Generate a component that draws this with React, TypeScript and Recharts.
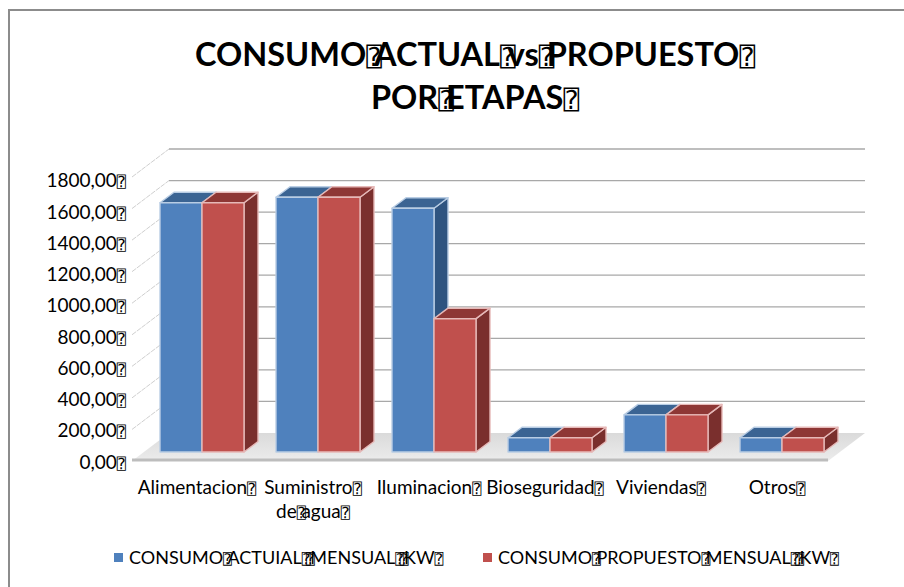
import { BarChart, Bar, XAxis, YAxis, CartesianGrid, Legend } from 'recharts';

const BOX = '\u2370';

const categories = [
  `Alimentacion${BOX}`,
  `Suministro${BOX}\nde${BOX}agua${BOX}`,
  `Iluminacion${BOX}`,
  `Bioseguridad${BOX}`,
  `Viviendas${BOX}`,
  `Otros${BOX}`,
];
const actual = [1580, 1615, 1545, 90, 235, 90];
const propuesto = [1580, 1615, 845, 90, 235, 90];
const yTicks = [0, 200, 400, 600, 800, 1000, 1200, 1400, 1600, 1800];

const titleLines = [`CONSUMO${BOX}ACTUAL${BOX}vs${BOX}PROPUESTO${BOX}`, `POR${BOX}ETAPAS${BOX}`];
const actualName = `CONSUMO${BOX}ACTUIAL${BOX}${BOX}MENSUAL${BOX}${BOX}KW${BOX}`;
const propuestoName = `CONSUMO${BOX}PROPUESTO${BOX}MENSUAL${BOX}${BOX}KW${BOX}`;

const data = categories.map((name, i) => ({ name, actual: actual[i], propuesto: propuesto[i] }));

const FONT = 'Lato, sans-serif';
const BLUE = { front: '#4f81bd', top: '#3b6493', side: '#2f5480', edge: '#b9cde4' };
const RED = { front: '#c0504d', top: '#8e3735', side: '#7a2f2d', edge: '#e6b9b8' };

// the plot area is the plane the bars stand on; floor and walls are offset from it
const FRONT = { dx: -12, dy: 9 };
const BACK = { dx: 25, dy: -19 };
const DEPTH = { dx: 14, dy: -10.5 };

// the source text has a missing-glyph box after each word, narrower than its glyph
function boxed(label: string, size: number) {
  const parts = label.split(BOX);
  const out: any[] = [];
  parts.forEach((part, i) => {
    const after = i > 0;
    if (part) {
      out.push(
        <tspan key={`t${i}`} dx={after ? -size * 0.24 : undefined}>
          {part}
        </tspan>
      );
    }
    if (i < parts.length - 1) {
      out.push(
        <tspan
          key={`b${i}`}
          dx={after && !part ? -size * 0.24 : undefined}
          fontFamily="DejaVu Sans Mono"
          fontWeight="normal"
          fontSize={size * 0.8}
        >
          {BOX}
        </tspan>
      );
    }
  });
  return out;
}

function Bar3D({ x, y, width, height, colors }: any) {
  const { dx, dy } = DEPTH;
  const r = x + width;
  const b = y + height;
  return (
    <g stroke={colors.edge} strokeWidth={1.4} strokeLinejoin="round">
      <path d={`M${r},${y} L${r + dx},${y + dy} L${r + dx},${b + dy} L${r},${b} Z`} fill={colors.side} />
      <path d={`M${x},${y} L${x + dx},${y + dy} L${r + dx},${y + dy} L${r},${y} Z`} fill={colors.top} />
      <rect x={x} y={y} width={width} height={height} fill={colors.front} />
    </g>
  );
}

function WallLine({ x1, x2, y1 }: any) {
  const isFloor = Math.abs(y1 - 452) < 1;
  const fx = x1 + FRONT.dx;
  const fy = y1 + FRONT.dy;
  const bx = x1 + BACK.dx;
  const by = y1 + BACK.dy;
  const brx = x2 + BACK.dx;
  if (isFloor) {
    const frx = x2 + FRONT.dx;
    return (
      <g>
        <path d={`M${fx},${fy} L${bx},${by} L${brx},${by} L${frx},${fy} Z`} fill="url(#floorFill)" />
        <path d={`M${fx},${fy - 1} L${frx},${fy - 1}`} stroke="#bdbdbd" strokeWidth={3} fill="none" />
      </g>
    );
  }
  return (
    <g fill="none">
      <path d={`M${fx},${fy} L${bx},${by}`} stroke="#cfcfcf" strokeWidth={1} strokeDasharray="5 1" />
      <path d={`M${bx},${by} L${brx},${by}`} stroke="#a8a8a8" strokeWidth={1.3} />
    </g>
  );
}

function YTick({ x, y, payload }: any) {
  // labels in the source are spaced a touch tighter than the gridlines
  const shift = 16.5 + (452 - y) * 0.01;
  return (
    <text x={x - 10} y={y + shift} textAnchor="end" fontFamily={FONT} fontSize={19} fill="#000">
      {boxed(`${payload.value},00${BOX}`, 19)}
    </text>
  );
}

function XTick({ x, y, payload }: any) {
  const lines = String(payload.value).split('\n');
  return (
    <g>
      {lines.map((line: string, i: number) => (
        <text key={i} x={x - 5} y={y + 34 + i * 24} textAnchor="middle" fontFamily={FONT} fontSize={19} fill="#000">
          {boxed(line, 19)}
        </text>
      ))}
    </g>
  );
}

function LegendRow() {
  return (
    <svg width={904} height={30} style={{ display: 'block', overflow: 'visible' }}>
      <rect x={114} y={4} width={9} height={9} fill={BLUE.front} />
      <text x={129} y={15} fontFamily={FONT} fontSize={18} fill="#000">
        {boxed(actualName, 18)}
      </text>
      <rect x={483} y={4} width={9} height={9} fill={RED.front} />
      <text x={498} y={15} fontFamily={FONT} fontSize={18} fill="#000">
        {boxed(propuestoName, 18)}
      </text>
    </svg>
  );
}

export default function App() {
  return (
    <div style={{ position: 'absolute', left: 0, top: 0, width: 904, height: 587, overflow: 'hidden', background: '#fff' }}>
      <div style={{ position: 'absolute', left: 8, top: 9, width: 896, height: 578, borderLeft: '2px solid #8c8c8c', borderTop: '2px solid #8c8c8c' }} />
      <svg width={904} height={130} style={{ position: 'absolute', left: 0, top: 0 }}>
        {titleLines.map((line, i) => (
          <text key={i} x={475} y={66 + i * 43} textAnchor="middle" fontFamily={FONT} fontWeight="bold" fontSize={32.5} fill="#000">
            {boxed(line, 32.5)}
          </text>
        ))}
        <defs>
          <linearGradient id="floorFill" x1="0" y1="0" x2="0" y2="1">
            <stop offset="0" stopColor="#dadada" />
            <stop offset="1" stopColor="#ececec" />
          </linearGradient>
        </defs>
      </svg>
      <div style={{ position: 'absolute', left: 0, top: 0 }}>
        <BarChart
          width={904}
          height={587}
          data={data}
          barCategoryGap="13.8%"
          barGap={0}
          margin={{ top: 168, right: 64, bottom: 95, left: 84 }}
        >
          <CartesianGrid vertical={false} horizontal={(props: any) => <WallLine key={props.y1} {...props} />} />
          <XAxis dataKey="name" height={40} interval={0} axisLine={false} tickLine={false} tick={<XTick />} />
          <YAxis
            width={60}
            domain={[0, 1800]}
            ticks={yTicks}
            interval={0}
            axisLine={false}
            tickLine={false}
            tick={<YTick />}
          />
          <Legend
            layout="horizontal"
            verticalAlign="middle"
            wrapperStyle={{ top: 549, left: 0, width: 904 }}
            content={() => <LegendRow />}
          />
          <Bar dataKey="actual" name={actualName} isAnimationActive={false} shape={(p: any) => <Bar3D {...p} colors={BLUE} />} />
          <Bar dataKey="propuesto" name={propuestoName} isAnimationActive={false} shape={(p: any) => <Bar3D {...p} colors={RED} />} />
        </BarChart>
      </div>
    </div>
  );
}
